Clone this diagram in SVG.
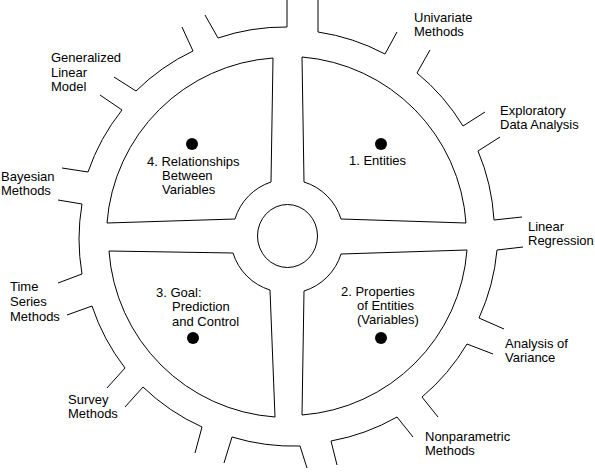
<svg xmlns="http://www.w3.org/2000/svg" width="595" height="472" viewBox="0 0 595 472">
<style>
.ln{fill:none;stroke:#000;stroke-width:1}
.q{fill:#fff;stroke:#000;stroke-width:1}
.dot{fill:#000}
text{font-family:"Liberation Sans",Arial,sans-serif;font-size:13px;fill:#000}
</style>
<rect width="595" height="472" fill="#fff"/>
<g id="rim" class="ln">
<path d="M318,0 L318,32 A208,208 0 0 1 385,54 L397,32"/>
<path d="M430,50 L417,73 A208,208 0 0 1 463,126 L485,112"/>
<path d="M500,137 L478,151 A208,208 0 0 1 494,220 L522,217"/>
<path d="M523,247 L497,250 A208,208 0 0 1 479,318 L504,329"/>
<path d="M493,354 L467,344 A208,208 0 0 1 422,397 L438,417"/>
<path d="M413,437 L397,417 A208,208 0 0 1 331,441 L337,465"/>
<path d="M307,468 L300,446 A208,208 0 0 1 232,437 L224,463"/>
<path d="M195,453 L202,427 A208,208 0 0 1 143,387 L125,407"/>
<path d="M107,388 L125,368 A208,208 0 0 1 92,306 L67,315"/>
<path d="M58,283 L82,274 A208,208 0 0 1 82,204 L58,200"/>
<path d="M62,168 L88,172 A208,208 0 0 1 122,110 L100,95"/>
<path d="M114,77 L136,91 A208,208 0 0 1 193,51 L182,27"/>
<path d="M205,15 L218,38 A208,208 0 0 1 287,27 L287,0"/>
</g>
<g id="hub">
<ellipse class="q" cx="287.5" cy="236" rx="30" ry="31.5"/>
</g>
<g id="q1-entities">
<path class="q" d="M302,57 L304,182 A56,56 0 0 1 341,219 L466,223 A179,179 0 0 0 302,57 Z"/>
<circle class="dot" cx="381" cy="144" r="6"/>
<text x="349" y="165">1. Entities</text>
</g>
<g id="q2-properties">
<path class="q" d="M467,250 L341,254 A56,56 0 0 1 304,291 L302,415 A179,179 0 0 0 467,250 Z"/>
<circle class="dot" cx="381" cy="338" r="6"/>
<text x="341" y="296">2. Properties</text>
<text x="357" y="310">of Entities</text>
<text x="357" y="324">(Variables)</text>
</g>
<g id="q3-goal">
<path class="q" d="M109,251 L233,253 A56,56 0 0 0 270,290 L275,417 A179,179 0 0 1 109,251 Z"/>
<circle class="dot" cx="193" cy="338" r="6"/>
<text x="156" y="297">3. Goal:</text>
<text x="172" y="311">Prediction</text>
<text x="172" y="326">and Control</text>
</g>
<g id="q4-relationships">
<path class="q" d="M273,58 L271,182 A56,56 0 0 0 235,219 L107,223 A179,179 0 0 1 273,58 Z"/>
<circle class="dot" cx="192" cy="144" r="6"/>
<text x="147" y="166">4. Relationships</text>
<text x="162" y="180">Between</text>
<text x="162" y="194">Variables</text>
</g>
<g id="label-univariate"><text x="414" y="22">Univariate</text><text x="414" y="36">Methods</text></g>
<g id="label-eda"><text x="500" y="115">Exploratory</text><text x="500" y="129">Data Analysis</text></g>
<g id="label-regression"><text x="528" y="231">Linear</text><text x="528" y="245">Regression</text></g>
<g id="label-anova"><text x="505" y="348">Analysis of</text><text x="505" y="362">Variance</text></g>
<g id="label-nonparametric"><text x="425" y="441">Nonparametric</text><text x="425" y="455">Methods</text></g>
<g id="label-survey"><text x="68" y="404">Survey</text><text x="68" y="418">Methods</text></g>
<g id="label-timeseries"><text x="10" y="291">Time</text><text x="10" y="306">Series</text><text x="10" y="321">Methods</text></g>
<g id="label-bayesian"><text x="1" y="181">Bayesian</text><text x="1" y="195">Methods</text></g>
<g id="label-glm"><text x="51" y="62">Generalized</text><text x="51" y="77">Linear</text><text x="51" y="91">Model</text></g>
</svg>
